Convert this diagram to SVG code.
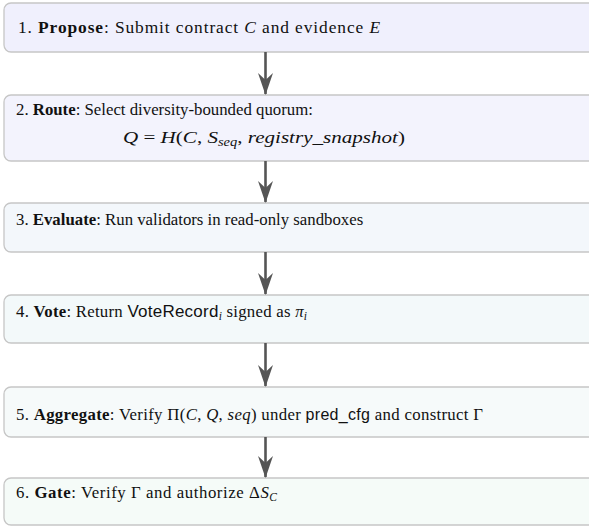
<svg xmlns="http://www.w3.org/2000/svg" width="589" height="527" viewBox="0 0 589 527">
<style>
.box{stroke:#c6c6c6;stroke-width:1.3}
.t{font-family:"Liberation Serif","Times New Roman",serif;font-size:16.8px;fill:#111}
.b{font-weight:bold}
.m{font-style:italic}
.s{font-family:"Liberation Sans",Arial,sans-serif;font-size:17px}
.sub{font-size:11.5px}
.conn line{stroke:#555;stroke-width:2.6}
.ah{fill:#555}
</style>
<defs>
<marker id="arr" viewBox="0 0 22 16" refX="21" refY="8" markerWidth="22" markerHeight="16" markerUnits="userSpaceOnUse" orient="auto">
<path class="ah" d="M0,0.5 L22,8 L0,15.5 L7,8 Z"/>
</marker>
</defs>
<rect width="589" height="527" fill="#ffffff"/>
<g id="n1">
<rect class="box" x="4" y="3" width="600" height="49" rx="7" fill="#f0f0fd"/>
<text class="t" x="18" y="33" style="font-size:17.4px" textLength="362" lengthAdjust="spacing">1. <tspan class="b">Propose</tspan>: Submit contract <tspan class="m">C</tspan> and evidence <tspan class="m">E</tspan></text>
</g>
<g id="n2">
<rect class="box" x="4" y="95" width="600" height="66" rx="7" fill="#f3f3fd"/>
<text class="t" x="16" y="115">2. <tspan class="b">Route</tspan>: Select diversity-bounded quorum:</text>
<text class="t" x="123" y="143" textLength="282" lengthAdjust="spacingAndGlyphs"><tspan class="m">Q</tspan> = <tspan class="m">H</tspan>(<tspan class="m">C</tspan>, <tspan class="m">S</tspan><tspan class="sub m" dy="3">seq</tspan><tspan dy="-3">, </tspan><tspan class="m">registry_snapshot</tspan>)</text>
</g>
<g id="n3">
<rect class="box" x="4" y="203" width="600" height="49" rx="7" fill="#f3f7fb"/>
<text class="t" x="16" y="225">3. <tspan class="b">Evaluate</tspan>: Run validators in read-only sandboxes</text>
</g>
<g id="n4">
<rect class="box" x="4" y="295" width="600" height="48" rx="7" fill="#f3f9fa"/>
<text class="t" x="16" y="317" textLength="291" lengthAdjust="spacing">4. <tspan class="b">Vote</tspan>: Return <tspan class="s">VoteRecord</tspan><tspan class="sub m" dy="3">i</tspan><tspan dy="-3"> signed as </tspan><tspan class="m">π</tspan><tspan class="sub m" dy="3">i</tspan></text>
</g>
<g id="n5">
<rect class="box" x="4" y="387" width="600" height="50" rx="7" fill="#f6fafa"/>
<text class="t" x="16" y="420" textLength="467" lengthAdjust="spacing">5. <tspan class="b">Aggregate</tspan>: Verify Π(<tspan class="m">C</tspan>, <tspan class="m">Q</tspan>, <tspan class="m">seq</tspan>) under <tspan class="s" style="font-size:16px">pred_cfg</tspan> and construct Γ</text>
</g>
<g id="n6">
<rect class="box" x="4" y="478" width="600" height="47" rx="7" fill="#f5fbf8"/>
<text class="t" x="16" y="498" textLength="261" lengthAdjust="spacing">6. <tspan class="b">Gate</tspan>: Verify Γ and authorize Δ<tspan class="m">S</tspan><tspan class="sub m" dy="3">C</tspan></text>
</g>
<g id="connectors" class="conn">
<line x1="265.5" y1="52" x2="265.5" y2="94" marker-end="url(#arr)"/>
<line x1="265.5" y1="161" x2="265.5" y2="202" marker-end="url(#arr)"/>
<line x1="265.5" y1="252" x2="265.5" y2="294" marker-end="url(#arr)"/>
<line x1="265.5" y1="343" x2="265.5" y2="386" marker-end="url(#arr)"/>
<line x1="265.5" y1="437" x2="265.5" y2="477" marker-end="url(#arr)"/>
</g>
</svg>
